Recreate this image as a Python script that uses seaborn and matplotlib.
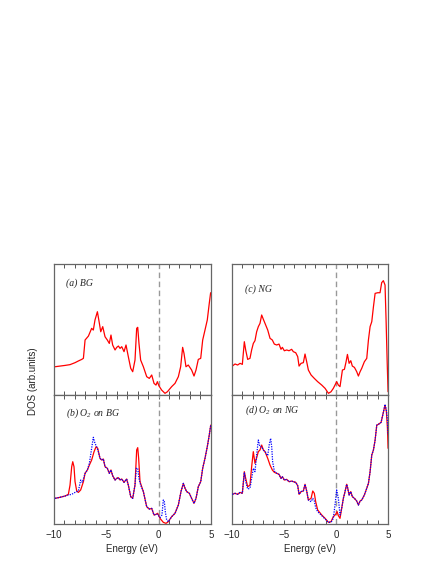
import matplotlib
matplotlib.use('Agg')
import matplotlib.pyplot as plt
import numpy as np
import pandas as pd
import seaborn as sns
from matplotlib.ticker import MultipleLocator

# energies in eV, DOS in arbitrary units
E_bg = [-9.90, -9.43, -8.95, -8.47, -7.99, -7.67, -7.35, -7.19, -7.03, -6.71,
        -6.40, -6.24, -6.08, -5.85, -5.66, -5.53, -5.34, -5.12, -4.90, -4.71,
        -4.55, -4.39, -4.16, -4.00, -3.84, -3.68, -3.52, -3.30, -3.11, -2.89,
        -2.66, -2.47, -2.25, -2.09, -1.99, -1.87, -1.71, -1.45, -1.13, -0.88,
        -0.65, -0.43, -0.24, -0.11, 0.05, 0.30, 0.62, 0.85, 1.26, 1.58,
        1.90, 2.12, 2.31, 2.44, 2.63, 2.85, 3.17, 3.40, 3.59, 3.81,
        4.04, 4.23, 4.45, 4.67, 4.86, 4.99]
dos_bg = [0.216, 0.221, 0.226, 0.232, 0.247, 0.260, 0.272, 0.280, 0.420, 0.450,
          0.509, 0.496, 0.573, 0.636, 0.547, 0.483, 0.522, 0.445, 0.420, 0.394,
          0.458, 0.382, 0.344, 0.364, 0.374, 0.356, 0.369, 0.331, 0.382, 0.293,
          0.204, 0.178, 0.267, 0.509, 0.517, 0.394, 0.267, 0.216, 0.140, 0.127,
          0.153, 0.089, 0.076, 0.102, 0.069, 0.038, 0.013, 0.025, 0.064, 0.089,
          0.140, 0.216, 0.364, 0.318, 0.216, 0.229, 0.191, 0.145, 0.191, 0.272,
          0.280, 0.420, 0.496, 0.573, 0.700, 0.781]

E_ng = [-9.94, -9.68, -9.43, -9.20, -8.98, -8.79, -8.66, -8.47, -8.25, -8.09,
        -7.93, -7.77, -7.61, -7.45, -7.29, -7.13, -6.97, -6.81, -6.55, -6.33,
        -6.11, -5.92, -5.69, -5.47, -5.28, -5.15, -4.96, -4.73, -4.51, -4.26,
        -4.10, -3.87, -3.68, -3.55, -3.36, -3.14, -2.98, -2.82, -2.66, -2.40,
        -2.09, -1.77, -1.38, -1.06, -0.74, -0.49, -0.27, -0.11, 0.05, 0.21,
        0.37, 0.60, 0.79, 0.95, 1.08, 1.24, 1.40, 1.55, 1.75, 1.97,
        2.13, 2.29, 2.45, 2.70, 2.93, 3.09, 3.25, 3.41, 3.57, 3.73,
        3.98, 4.20, 4.36, 4.52, 4.68, 4.78, 4.88, 4.97]
dos_ng = [0.221, 0.237, 0.229, 0.242, 0.234, 0.407, 0.344, 0.272, 0.280, 0.344,
          0.394, 0.415, 0.483, 0.522, 0.547, 0.611, 0.578, 0.547, 0.496, 0.433,
          0.420, 0.389, 0.382, 0.389, 0.349, 0.364, 0.338, 0.344, 0.338, 0.349,
          0.331, 0.323, 0.293, 0.221, 0.242, 0.247, 0.313, 0.254, 0.191, 0.153,
          0.127, 0.102, 0.076, 0.051, 0.013, 0.025, 0.051, 0.076, 0.102, 0.076,
          0.064, 0.191, 0.196, 0.254, 0.310, 0.242, 0.262, 0.221, 0.211, 0.178,
          0.145, 0.178, 0.204, 0.254, 0.280, 0.420, 0.522, 0.560, 0.674, 0.776,
          0.781, 0.781, 0.858, 0.873, 0.840, 0.573, 0.267, 0.025]

# O2 on BG: red = spin up, blue dotted = spin down
E_o2bg_red = [-9.90, -9.43, -8.95, -8.63, -8.47, -8.31, -8.21, -8.09, -7.99, -7.83,
              -7.67, -7.45, -7.19, -7.03, -6.81, -6.62, -6.40, -6.17, -5.98, -5.82,
              -5.60, -5.44, -5.28, -5.12, -4.90, -4.71, -4.55, -4.39, -4.16, -4.00,
              -3.84, -3.68, -3.52, -3.30, -3.05, -2.89, -2.66, -2.47, -2.25, -2.09,
              -1.99, -1.90, -1.77, -1.45, -1.13, -0.88, -0.65, -0.43, -0.24, -0.08,
              0.14, 0.46, 0.72, 0.94, 1.26, 1.58, 1.90, 2.15, 2.38, 2.54,
              2.70, 2.95, 3.17, 3.40, 3.59, 3.81, 4.04, 4.23, 4.45, 4.67,
              4.86, 5.00]
dos_o2bg_red = [0.199, 0.207, 0.217, 0.230, 0.302, 0.444, 0.483, 0.444, 0.328, 0.256,
                0.245, 0.264, 0.328, 0.393, 0.419, 0.457, 0.496, 0.561, 0.599, 0.587,
                0.509, 0.496, 0.504, 0.444, 0.432, 0.393, 0.419, 0.375, 0.341, 0.354,
                0.359, 0.341, 0.349, 0.323, 0.349, 0.302, 0.212, 0.199, 0.302, 0.574,
                0.592, 0.509, 0.328, 0.251, 0.134, 0.116, 0.121, 0.070, 0.075, 0.083,
                0.044, 0.013, 0.005, 0.018, 0.057, 0.083, 0.147, 0.251, 0.315, 0.277,
                0.251, 0.238, 0.199, 0.160, 0.199, 0.289, 0.328, 0.432, 0.509, 0.599,
                0.690, 0.767]
E_o2bg_blue = [-9.90, -9.43, -8.95, -8.63, -8.31, -7.99, -7.67, -7.45, -7.29, -7.03,
               -6.81, -6.62, -6.40, -6.24, -6.08, -5.92, -5.76, -5.60, -5.44, -5.28,
               -5.12, -4.90, -4.71, -4.55, -4.39, -4.16, -4.00, -3.84, -3.68, -3.52,
               -3.30, -3.05, -2.89, -2.66, -2.47, -2.25, -2.12, -1.99, -1.87, -1.71,
               -1.45, -1.13, -0.88, -0.65, -0.43, -0.24, -0.08, 0.14, 0.33, 0.46,
               0.56, 0.65, 0.78, 0.94, 1.26, 1.58, 1.90, 2.15, 2.38, 2.54,
               2.70, 2.95, 3.17, 3.40, 3.59, 3.81, 4.04, 4.23, 4.45, 4.67,
               4.86, 5.00]
dos_o2bg_blue = [0.199, 0.207, 0.217, 0.225, 0.230, 0.245, 0.256, 0.341, 0.323, 0.393,
                 0.419, 0.470, 0.587, 0.672, 0.625, 0.599, 0.561, 0.509, 0.496, 0.504,
                 0.444, 0.432, 0.393, 0.419, 0.375, 0.341, 0.354, 0.359, 0.341, 0.349,
                 0.323, 0.349, 0.302, 0.212, 0.199, 0.302, 0.432, 0.432, 0.354, 0.302,
                 0.251, 0.134, 0.116, 0.121, 0.070, 0.075, 0.075, 0.049, 0.070, 0.186,
                 0.173, 0.096, 0.031, 0.018, 0.057, 0.083, 0.147, 0.251, 0.315, 0.277,
                 0.251, 0.238, 0.199, 0.160, 0.199, 0.289, 0.328, 0.432, 0.509, 0.599,
                 0.690, 0.767]

# O2 on NG
E_o2ng_red = [-9.94, -9.68, -9.43, -9.20, -8.98, -8.79, -8.66, -8.47, -8.25, -8.09,
              -7.93, -7.77, -7.61, -7.45, -7.29, -7.13, -6.97, -6.81, -6.55, -6.33,
              -6.11, -5.92, -5.69, -5.47, -5.28, -5.15, -4.96, -4.73, -4.51, -4.26,
              -4.10, -3.87, -3.68, -3.55, -3.36, -3.14, -2.98, -2.82, -2.66, -2.40,
              -2.24, -2.09, -1.96, -1.77, -1.38, -1.06, -0.74, -0.49, -0.27, -0.04,
              0.09, 0.21, 0.37, 0.53, 0.69, 0.85, 1.01, 1.11, 1.24, 1.40,
              1.55, 1.75, 1.97, 2.13, 2.29, 2.45, 2.70, 2.93, 3.09, 3.25,
              3.41, 3.57, 3.73, 3.89, 4.05, 4.30, 4.52, 4.68, 4.81, 4.91,
              4.97]
dos_o2ng_red = [0.230, 0.238, 0.230, 0.245, 0.238, 0.406, 0.354, 0.289, 0.302, 0.444,
                0.561, 0.470, 0.514, 0.561, 0.574, 0.612, 0.574, 0.561, 0.509, 0.457,
                0.419, 0.401, 0.393, 0.385, 0.354, 0.367, 0.341, 0.346, 0.328, 0.333,
                0.328, 0.323, 0.297, 0.230, 0.251, 0.256, 0.308, 0.256, 0.186, 0.199,
                0.256, 0.238, 0.173, 0.109, 0.070, 0.044, 0.013, 0.018, 0.057, 0.075,
                0.096, 0.065, 0.044, 0.121, 0.199, 0.251, 0.308, 0.277, 0.225, 0.251,
                0.212, 0.199, 0.178, 0.147, 0.178, 0.186, 0.225, 0.277, 0.315, 0.406,
                0.535, 0.574, 0.651, 0.767, 0.773, 0.788, 0.866, 0.922, 0.871, 0.742,
                0.587]
E_o2ng_blue = [-9.94, -9.68, -9.43, -9.20, -8.98, -8.79, -8.66, -8.47, -8.25, -8.09,
               -7.93, -7.77, -7.61, -7.45, -7.29, -7.13, -6.97, -6.81, -6.55, -6.40,
               -6.27, -6.17, -6.08, -5.92, -5.69, -5.47, -5.28, -5.15, -4.96, -4.73,
               -4.51, -4.26, -4.10, -3.87, -3.68, -3.55, -3.36, -3.14, -2.98, -2.82,
               -2.66, -2.40, -2.24, -2.09, -1.96, -1.77, -1.38, -1.06, -0.74, -0.49,
               -0.27, -0.11, 0.05, 0.21, 0.37, 0.53, 0.69, 0.85, 1.01, 1.11,
               1.24, 1.40, 1.55, 1.75, 1.97, 2.13, 2.29, 2.45, 2.70, 2.93,
               3.09, 3.25, 3.41, 3.57, 3.73, 3.89, 4.05, 4.30, 4.52, 4.68,
               4.81, 4.91, 4.97]
dos_o2ng_blue = [0.230, 0.238, 0.230, 0.245, 0.238, 0.401, 0.328, 0.271, 0.277, 0.354,
                 0.432, 0.406, 0.535, 0.651, 0.599, 0.599, 0.574, 0.561, 0.530, 0.618,
                 0.664, 0.599, 0.483, 0.411, 0.393, 0.385, 0.354, 0.367, 0.341, 0.346,
                 0.328, 0.333, 0.328, 0.323, 0.297, 0.230, 0.251, 0.256, 0.308, 0.256,
                 0.186, 0.173, 0.199, 0.178, 0.127, 0.096, 0.065, 0.039, 0.013, 0.013,
                 0.044, 0.147, 0.264, 0.199, 0.070, 0.121, 0.199, 0.251, 0.308, 0.277,
                 0.225, 0.251, 0.212, 0.199, 0.178, 0.147, 0.178, 0.186, 0.225, 0.277,
                 0.315, 0.406, 0.535, 0.574, 0.651, 0.767, 0.773, 0.788, 0.866, 0.928,
                 0.884, 0.806, 0.690]

panel_labels = ['(a) BG', '(c) NG', r'(b) O$_2$ on BG', r'(d) O$_2$ on NG']

sns.set_theme(style='white')
plt.rcParams['font.family'] = ['Liberation Sans', 'DejaVu Sans']
plt.rcParams['mathtext.fontset'] = 'custom'
plt.rcParams['mathtext.it'] = 'Liberation Serif:italic'
plt.rcParams['mathtext.rm'] = 'Liberation Serif:italic'

fig = plt.figure(figsize=(4.43, 5.73), dpi=100)
fig.patch.set_facecolor('white')

lefts = [0.122, 0.523]
bottoms = [0.3106, 0.0855]
heights = [0.2286, 0.2251]
width = 0.3537

axes = {}
axes['a'] = fig.add_axes([lefts[0], bottoms[0], width, heights[0]])
axes['c'] = fig.add_axes([lefts[1], bottoms[0], width, heights[0]])
axes['b'] = fig.add_axes([lefts[0], bottoms[1], width, heights[1]])
axes['d'] = fig.add_axes([lefts[1], bottoms[1], width, heights[1]])

red_data = {
    'a': (E_bg, dos_bg),
    'c': (E_ng, dos_ng),
    'b': (E_o2bg_red, dos_o2bg_red),
    'd': (E_o2ng_red, dos_o2ng_red),
}
blue_data = {
    'b': (E_o2bg_blue, dos_o2bg_blue),
    'd': (E_o2ng_blue, dos_o2ng_blue),
}
label_pos = {'a': (0.077, 0.85), 'c': (0.085, 0.81), 'b': (0.077, 0.86), 'd': (0.085, 0.88)}
labels = {'a': panel_labels[0], 'c': panel_labels[1], 'b': panel_labels[2], 'd': panel_labels[3]}

for key, ax in axes.items():
    ax.axvline(0, color='#999999', lw=1.0, ls=(0, (4, 2.5)), zorder=1)
    x, y = red_data[key]
    sns.lineplot(x=x, y=y, ax=ax, color='#ff0000', lw=0.9, zorder=2)
    if key in blue_data:
        xb, yb = blue_data[key]
        sns.lineplot(x=xb, y=yb, ax=ax, color='#0000ff', lw=0.9,
                     ls=(0, (1, 1)), zorder=3)
    ax.set_xlim(-10, 5)
    ax.set_ylim(0, 1)
    ax.set_yticks([])
    ax.set_ylabel('')
    ax.xaxis.set_major_locator(MultipleLocator(5))
    ax.xaxis.set_minor_locator(MultipleLocator(1))
    ax.tick_params(axis='x', which='both', direction='in', top=True, bottom=True,
                   length=3, width=0.7, color='#555555', labelsize=7, pad=4)
    for sp in ax.spines.values():
        sp.set_color('#666666')
        sp.set_linewidth(0.9)
    tx, ty = label_pos[key]
    ax.text(tx, ty, labels[key], transform=ax.transAxes, fontsize=7,
            family='Liberation Serif', style='italic', ha='left', va='center')
    if key in ('a', 'c'):
        ax.set_xticklabels([])
    else:
        ax.set_xlabel('Energy (eV)', fontsize=7, labelpad=3)

fig.text(0.075, 0.335, 'DOS (arb.units)', rotation=90, ha='center', va='center',
         fontsize=7)

fig.savefig('out.png', dpi=100)
